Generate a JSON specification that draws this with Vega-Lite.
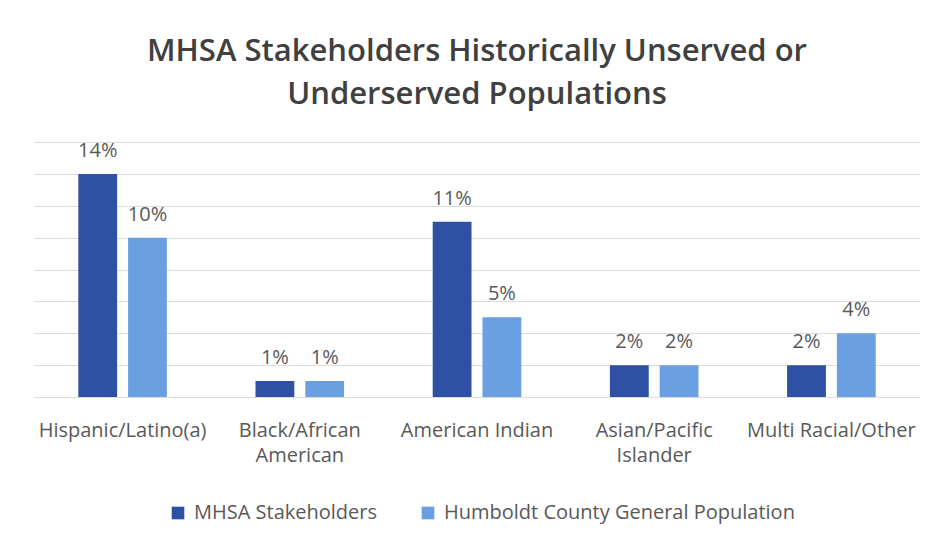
{
  "$schema": "https://vega.github.io/schema/vega-lite/v6.json",
  "autosize": {"type": "none"},
  "width": 886,
  "height": 255,
  "padding": {"left": 34, "top": 142, "right": 19, "bottom": 147},
  "background": "white",
  "title": {
    "text": ["MHSA Stakeholders Historically Unserved or", "Underserved Populations"],
    "font": "Open Sans",
    "fontSize": 31,
    "fontWeight": 600,
    "color": "#404040",
    "anchor": "middle",
    "lineHeight": 43,
    "offset": 30
  },
  "data": {
    "values": [
      {"category": "Hispanic/Latino(a)", "series": "MHSA Stakeholders", "value": 0.14},
      {"category": "Hispanic/Latino(a)", "series": "Humboldt County General Population", "value": 0.10},
      {"category": "Black/African American", "series": "MHSA Stakeholders", "value": 0.01},
      {"category": "Black/African American", "series": "Humboldt County General Population", "value": 0.01},
      {"category": "American Indian", "series": "MHSA Stakeholders", "value": 0.11},
      {"category": "American Indian", "series": "Humboldt County General Population", "value": 0.05},
      {"category": "Asian/Pacific Islander", "series": "MHSA Stakeholders", "value": 0.02},
      {"category": "Asian/Pacific Islander", "series": "Humboldt County General Population", "value": 0.02},
      {"category": "Multi Racial/Other", "series": "MHSA Stakeholders", "value": 0.02},
      {"category": "Multi Racial/Other", "series": "Humboldt County General Population", "value": 0.04}
    ]
  },
  "encoding": {
    "x": {
      "field": "category",
      "type": "nominal",
      "sort": ["Hispanic/Latino(a)", "Black/African American", "American Indian", "Asian/Pacific Islander", "Multi Racial/Other"],
      "scale": {"paddingInner": 0.5, "paddingOuter": 0.25},
      "axis": {
        "title": null,
        "labelAngle": 0,
        "labelFont": "Open Sans",
        "labelFontSize": 20,
        "labelColor": "#595959",
        "labelLineHeight": 25,
        "labelPadding": 23,
        "labelLimit": 300,
        "ticks": false,
        "domain": false,
        "labelExpr": "datum.value == 'Black/African American' ? ['Black/African', 'American'] : datum.value == 'Asian/Pacific Islander' ? ['Asian/Pacific', 'Islander'] : datum.value"
      }
    },
    "xOffset": {
      "field": "series",
      "type": "nominal",
      "sort": ["MHSA Stakeholders", "Humboldt County General Population"],
      "scale": {"paddingInner": 0.22, "paddingOuter": 0}
    },
    "y": {
      "field": "value",
      "type": "quantitative",
      "scale": {"domain": [0, 0.16]},
      "axis": {
        "title": null,
        "labels": false,
        "ticks": false,
        "domain": false,
        "values": [0, 0.02, 0.04, 0.06, 0.08, 0.1, 0.12, 0.14, 0.16],
        "grid": true,
        "gridColor": "#dcdcdc",
        "gridWidth": 1
      }
    }
  },
  "layer": [
    {
      "mark": {"type": "bar"},
      "encoding": {
        "color": {
          "field": "series",
          "type": "nominal",
          "sort": ["MHSA Stakeholders", "Humboldt County General Population"],
          "scale": {"domain": ["MHSA Stakeholders", "Humboldt County General Population"], "range": ["#2F51A3", "#6A9FE2"]},
          "legend": {
            "title": null,
            "orient": "none",
            "legendX": 134,
            "legendY": 361,
            "direction": "horizontal",
            "symbolType": "square",
            "symbolSize": 160,
            "symbolStrokeWidth": 0,
            "labelFont": "Open Sans",
            "labelFontSize": 20,
            "labelColor": "#595959",
            "labelOffset": 6,
            "columnPadding": 40,
            "labelLimit": 400
          }
        }
      }
    },
    {
      "mark": {"type": "text", "baseline": "middle", "dy": -23, "font": "Open Sans", "fontSize": 20, "color": "#595959"},
      "encoding": {
        "text": {"field": "value", "type": "quantitative", "format": ".0%"}
      }
    }
  ],
  "config": {
    "view": {"stroke": null}
  }
}
